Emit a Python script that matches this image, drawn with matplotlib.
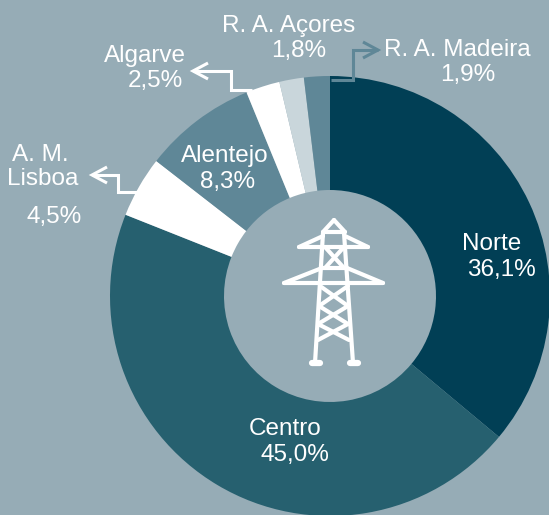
import matplotlib
matplotlib.use("Agg")
import matplotlib.pyplot as plt

categories = ["Norte", "Centro", "A. M. Lisboa", "Alentejo", "Algarve", "R. A. Açores", "R. A. Madeira"]
values = [36.1, 45.0, 4.5, 8.3, 2.5, 1.8, 1.9]
colors = ["#013F55", "#26606F", "#FFFFFF", "#5F8797", "#FFFFFF", "#C9D6DB", "#5F8797"]
BG = "#96ACB6"
W, H = 549, 515
plt.rcParams["font.family"] = "Liberation Sans"

fig = plt.figure(figsize=(W/100, H/100), dpi=100, facecolor=BG)
ax = fig.add_axes([0, 0, 1, 1])
ax.set_aspect("equal")
# the y axis is inverted, so start at -90 to begin at the top and run clockwise on screen
ax.pie(values, colors=colors, startangle=-90, counterclock=True, center=(330, 296), radius=220,
       wedgeprops=dict(width=114, linewidth=0), frame=True)
ax.set_xlim(0, W); ax.set_ylim(H, 0); ax.axis("off")

fs = 17.5
labels = [
    (491.5, 244, "Norte"), (501, 270, "36,1%"),
    (285, 429, "Centro"), (295, 455, "45,0%"),
    (225, 156, "Alentejo"), (228, 182, "8,3%"),
    (145, 56, "Algarve"), (155, 81, "2,5%"),
    (289, 26, "R. A. Açores"), (299, 51, "1,8%"),
    (457, 50, "R. A. Madeira"), (468, 75, "1,9%"),
    (40, 155, "A. M."), (43, 179, "Lisboa"), (54, 217, "4,5%"),
]
for x, y, s in labels:
    ax.text(x, y, s, color="white", fontsize=fs, ha="center", va="center")

def leader(pts, col):
    xs, ys = zip(*pts)
    ax.plot(xs, ys, color=col, lw=2.2, solid_joinstyle="miter", solid_capstyle="butt")
    tip = pts[-1]; d = 1 if pts[-2][0] > tip[0] else -1
    ax.plot([tip[0]+d*15, tip[0], tip[0]+d*15], [tip[1]-8, tip[1], tip[1]+8], color=col, lw=2.2,
            solid_joinstyle="miter", solid_capstyle="butt")

leader([(252, 90), (231, 90), (231, 71), (193, 71)], "white")
leader([(137, 192), (118, 192), (118, 175), (92, 175)], "white")
leader([(331, 80), (353, 80), (353, 50), (378, 50)], "#5F8797")

def seg(x0, y0, x1, y1, lw=3.0):
    ax.plot([x0, x1], [y0, y1], color="white", lw=lw, solid_capstyle="round")

# transmission tower icon
for s in [
    (323, 233, 315, 363), (344, 233, 353, 363),
    (323, 232, 334, 220), (345, 232, 334, 220), (323, 232, 345, 232),
    (299, 247, 368, 247), (299, 247, 323, 236), (368, 247, 345, 236),
    (284, 283, 383, 283), (284, 283, 322, 268), (383, 283, 347, 268), (322, 268, 347, 268),
    (325, 247, 344, 268), (344, 247, 325, 268),
    (320, 286, 348, 306), (348, 306, 318, 324), (318, 324, 349, 340),
    (348, 286, 319, 306), (319, 306, 348, 324), (348, 324, 318, 340),
]:
    seg(*s)
seg(312, 363, 320, 363, 4.5)
seg(350, 363, 358, 363, 4.5)

fig.savefig("out.png", dpi=100, facecolor=BG)
